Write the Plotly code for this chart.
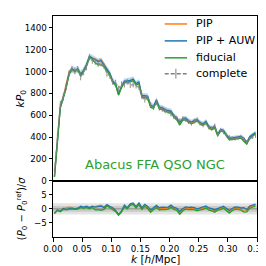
import plotly.graph_objects as go

# ---------------- data ----------------
k = [0.0025 + 0.005 * i for i in range(70)]

kP_complete = [
    85, 400, 700, 760, 860, 980, 1020, 1005, 1020, 950,
    995, 1040, 1130, 1100, 1090, 1070, 1075, 1050, 980, 960,
    905, 900, 845, 885, 880, 905, 875, 880, 870, 855,
    770, 740, 755, 700, 670, 715, 665, 655, 640, 630,
    610, 585, 570, 550, 570, 560, 540, 525, 545, 560,
    525, 510, 525, 490, 480, 505, 420, 460, 445, 415,
    400, 390, 385, 390, 400, 380, 355, 385, 400, 410,
]

sigma_kP = [
    30, 32, 32, 30, 30, 30, 30, 30, 30, 30,
    28, 28, 28, 28, 28, 28, 28, 27, 27, 27,
    26, 26, 26, 26, 25, 25, 25, 25, 25, 24,
    24, 24, 24, 24, 23, 23, 23, 23, 23, 22,
    22, 22, 22, 22, 21, 21, 21, 21, 21, 20,
    20, 20, 20, 20, 20, 19, 19, 19, 19, 19,
    19, 18, 18, 18, 18, 18, 18, 18, 18, 18,
]

res_auw = [
    -1.6, -0.4, -0.9, 0.1, -0.2, 0.0, 0.2, 0.1, 0.2, 0.9,
    0.6, 0.9, 0.4, 0.9, 0.6, 0.8, 0.9, 0.4, 1.5, 0.9,
    0.4, -0.6, -2.0, -0.8, 1.3, 0.4, 1.8, 2.1, 0.8, 2.1,
    0.4, 1.6, 0.8, -0.4, 0.5, 1.2, 0.4, 0.6, 0.5, 0.6,
    1.3, 0.5, 0.2, -0.9, 0.0, 0.7, 0.5, 0.6, 0.4, 0.0,
    0.3, 0.6, 1.0, 0.3, 0.1, -0.4, 0.2, 0.5, 0.9, 0.3,
    -0.6, 0.1, 0.7, 0.6, 0.3, 0.4, -0.3, 1.0, 1.3, 1.7,
]
res_pip = [
    -1.5, -0.3, -0.6, 0.2, 0.3, 0.6, 0.3, 0.0, 0.1, 0.7,
    0.4, 0.7, 0.3, 0.8, 0.9, 1.0, 1.3, 0.6, 1.3, 0.6,
    0.1, -0.8, -2.1, -0.9, 1.0, 0.2, 1.4, 1.8, 0.5, 1.7,
    0.0, 1.2, 0.3, -0.9, 0.0, 0.8, 0.0, 0.2, 0.1, 0.3,
    0.9, 0.1, -0.3, -1.4, -0.4, 0.3, 0.1, 0.2, 0.0, -0.3,
    -0.1, 0.2, 0.6, -0.1, -0.3, -0.8, -0.2, 0.1, 0.5, -0.1,
    -1.0, -0.3, 0.3, 0.2, -0.1, -0.8, -0.7, 0.6, 0.9, 1.3,
]
res_fid = [
    -1.7, -0.6, -1.0, -0.2, -0.4, -0.2, 0.0, -0.2, -0.1, 0.5,
    0.2, 0.5, 0.0, 0.5, -0.4, -0.3, -0.5, -0.2, 1.0, 0.4,
    -0.3, -1.0, -2.3, -1.2, 0.7, 0.0, 1.2, 1.5, 0.3, 1.4,
    -0.2, 0.9, 0.1, -1.2, -0.3, 0.5, -0.4, -0.2, -0.3, -0.1,
    0.6, -0.2, -0.6, -1.9, -0.8, -0.1, -0.3, -0.2, -0.4, -0.7,
    -0.4, -0.2, 0.3, -0.5, -0.7, -1.2, -0.5, -0.3, 0.2, -0.5,
    -1.5, -0.7, -0.1, -0.2, -0.5, -1.2, -1.1, 0.2, 0.6, 1.0,
]

legend_labels = ["PIP", "PIP + AUW", "fiducial", "complete"]

# upper-panel curves follow from the complete spectrum and the residuals
kP_pip = [c + r * s for c, r, s in zip(kP_complete, res_pip, sigma_kP)]
kP_auw = [c + r * s for c, r, s in zip(kP_complete, res_auw, sigma_kP)]
kP_fid = [c + r * s for c, r, s in zip(kP_complete, res_fid, sigma_kP)]
auw_lo = [v - s for v, s in zip(kP_auw, sigma_kP)]
auw_hi = [v + s for v, s in zip(kP_auw, sigma_kP)]

ORANGE, BLUE, GREEN, GRAY = "#ff7f0e", "#1f77b4", "#2ca02c", "#808080"
FONT = "DejaVu Sans"
LW = 1.3

fig = go.Figure()

# ---- upper panel ----
fig.add_trace(go.Scatter(x=k + k[::-1], y=auw_hi + auw_lo[::-1], fill="toself",
                         fillcolor="rgba(31,119,180,0.3)", line=dict(width=0),
                         hoverinfo="skip", showlegend=False, xaxis="x", yaxis="y"))
fig.add_trace(go.Scatter(x=k, y=kP_pip, mode="lines", name=legend_labels[0], showlegend=False,
                         line=dict(color=ORANGE, width=LW), xaxis="x", yaxis="y"))
fig.add_trace(go.Scatter(x=k, y=kP_auw, mode="lines", name=legend_labels[1], showlegend=False,
                         line=dict(color=BLUE, width=LW), xaxis="x", yaxis="y"))
fig.add_trace(go.Scatter(x=k, y=kP_fid, mode="lines", name=legend_labels[2], showlegend=False,
                         line=dict(color=GREEN, width=LW), xaxis="x", yaxis="y"))
fig.add_trace(go.Scatter(x=k, y=kP_complete, mode="lines", name=legend_labels[3], showlegend=False,
                         line=dict(color=GRAY, width=LW, dash="4px,2px"),
                         error_y=dict(type="data", array=sigma_kP, color=GRAY,
                                      thickness=1, width=0),
                         opacity=0.85, xaxis="x", yaxis="y"))

# ---- lower panel ----
fig.add_trace(go.Scatter(x=k, y=res_pip, mode="lines", showlegend=False,
                         line=dict(color=ORANGE, width=LW), xaxis="x2", yaxis="y2"))
fig.add_trace(go.Scatter(x=k, y=res_auw, mode="lines", showlegend=False,
                         line=dict(color=BLUE, width=LW), xaxis="x2", yaxis="y2"))
fig.add_trace(go.Scatter(x=k, y=res_fid, mode="lines", showlegend=False,
                         line=dict(color=GREEN, width=LW), xaxis="x2", yaxis="y2"))

shapes = [
    dict(type="rect", xref="x2 domain", yref="y2", x0=0, x1=1, y0=-2, y1=2,
         fillcolor="rgba(0,0,0,0.11)", line=dict(width=0), layer="below"),
    dict(type="rect", xref="x2 domain", yref="y2", x0=0, x1=1, y0=-1, y1=1,
         fillcolor="rgba(0,0,0,0.11)", line=dict(width=0), layer="below"),
    dict(type="line", xref="x2 domain", yref="y2", x0=0, x1=1, y0=0, y1=0,
         line=dict(color="rgba(0,0,0,0.3)", width=1), layer="below"),
]

# ---- hand-placed legend (matplotlib style, no frame) ----
PL, PT, PW, PH = 45, 7, 210, 222     # plot area in pixels


def px2paper(px, py):
    return (px - PL) / PW, (PT + PH - py) / PH


legend_colors = [ORANGE, BLUE, GREEN, GRAY]
legend_rows = [15, 32, 49, 65]
annotations = []
for lab, col, row in zip(legend_labels, legend_colors, legend_rows):
    x0, yy = px2paper(160, row)
    x1, _ = px2paper(183, row)
    dash = "4px,2px" if lab == "complete" else "solid"
    shapes.append(dict(type="line", xref="paper", yref="paper", x0=x0, x1=x1,
                       y0=yy, y1=yy, line=dict(color=col, width=1.5, dash=dash)))
    if lab == "complete":
        xm, ya = px2paper(171.5, row - 5)
        _, yb = px2paper(171.5, row + 5)
        shapes.append(dict(type="line", xref="paper", yref="paper", x0=xm, x1=xm,
                           y0=ya, y1=yb, line=dict(color=col, width=1)))
    xt, _ = px2paper(190, row)
    annotations.append(dict(text=lab, xref="paper", yref="paper", x=xt, y=yy,
                            xanchor="left", yanchor="middle", showarrow=False,
                            font=dict(family=FONT, size=11, color="black")))

axis_common = dict(showline=True, linecolor="black", linewidth=1, mirror=True,
                   ticks="outside", ticklen=3.5, tickwidth=1, tickcolor="black",
                   showgrid=False, zeroline=False, ticklabeloverflow="allow",
                   tickfont=dict(family=FONT, size=8.7, color="black"))

split = 0.255
annotations += [
    dict(text="Abacus FFA QSO NGC", xref="x", yref="y", x=0.175, y=60,
         xanchor="center", yanchor="bottom", showarrow=False,
         font=dict(family=FONT, size=13, color=GREEN)),
    dict(text="<i>kP</i><sub>0</sub>", xref="paper", yref="paper",
         x=-0.155, y=(split + 1) / 2, xanchor="center", yanchor="middle",
         textangle=-90, showarrow=False, font=dict(family=FONT, size=11)),
    dict(text="(<i>P</i><sub>0</sub> \u2212 <i>P</i><sub>0</sub><sup>ref</sup>)/<i>\u03c3</i>",
         xref="paper", yref="paper", x=-0.155, y=split / 2,
         xanchor="center", yanchor="middle", textangle=-90, showarrow=False,
         font=dict(family=FONT, size=10)),
    dict(text="<i>k</i> [<i>h</i>/Mpc]", xref="paper", yref="paper",
         x=0.5, y=-0.099, xanchor="center", yanchor="middle", showarrow=False,
         font=dict(family=FONT, size=10.5)),
]

fig.update_layout(
    width=266, height=266,
    margin=dict(l=PL, r=266 - PL - PW, t=PT, b=266 - PT - PH),
    plot_bgcolor="white", paper_bgcolor="white",
    font=dict(family=FONT, color="black"),
    showlegend=False,
    xaxis=dict(axis_common, domain=[0, 1], anchor="y", range=[0, 0.35],
               showticklabels=False, ticks="", matches="x2"),
    yaxis=dict(axis_common, domain=[split, 1], anchor="x", range=[0, 1510],
               tickvals=[0, 200, 400, 600, 800, 1000, 1200, 1400]),
    xaxis2=dict(axis_common, domain=[0, 1], anchor="y2", range=[0, 0.35],
                tickvals=[0, 0.05, 0.1, 0.15, 0.2, 0.25, 0.3, 0.35],
                ticktext=["0.00", "0.05", "0.10", "0.15", "0.20", "0.25", "0.30", "0.35"]),
    yaxis2=dict(axis_common, domain=[0, split], anchor="x2", range=[-10, 10],
                tickvals=[-5, 0, 5], ticktext=["\u22125", "0", "5"]),
    shapes=shapes,
    annotations=annotations,
)

fig.write_html("out.html")
